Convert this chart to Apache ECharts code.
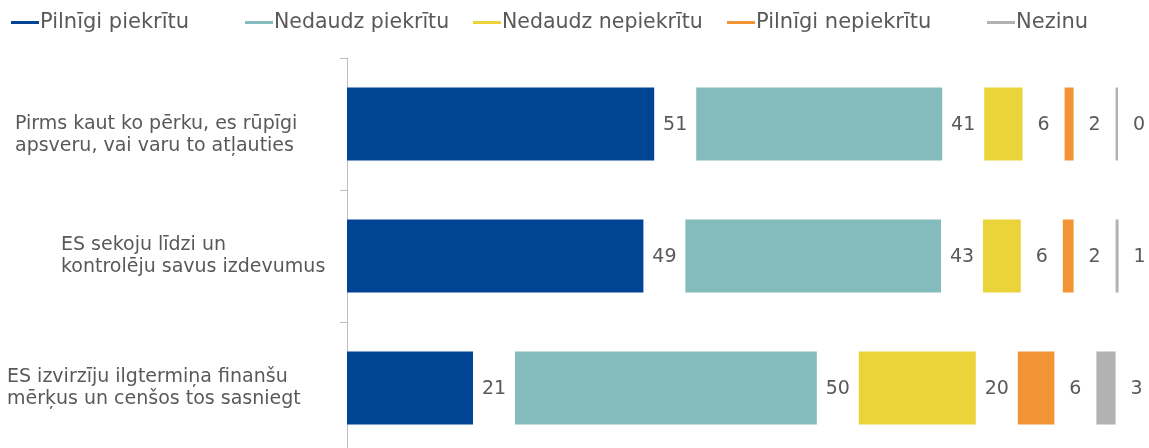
<!DOCTYPE html>
<html>
<head>
<meta charset="utf-8">
<script src="https://cdn.jsdelivr.net/npm/echarts@6/dist/echarts.min.js"></script>
<style>
  html, body { margin: 0; padding: 0; background: #fff; }
  #chart { width: 1149px; height: 448px; }
</style>
</head>
<body>
<div id="chart"></div>
<script>
const categories = [
  'Pirms kaut ko pērku, es rūpīgi\napsveru, vai varu to atļauties',
  'ES sekoju līdzi un\nkontrolēju savus izdevumus',
  'ES izvirzīju ilgtermiņa finanšu\nmērķus un cenšos tos sasniegt'
];
const seriesNames = ['Pilnīgi piekrītu', 'Nedaudz piekrītu', 'Nedaudz nepiekrītu', 'Pilnīgi nepiekrītu', 'Nezinu'];
const colors = ['#004494', '#84bbbc', '#ebd43a', '#f29436', '#b2b2b2'];

// percentage per answer, one array per answer, rows in category order
const fullyAgree = [51.2, 49.4, 21.0];
const somewhatAgree = [41.0, 42.6, 50.3];
const somewhatDisagree = [6.4, 6.3, 19.5];
const fullyDisagree = [1.5, 1.8, 6.1];
const dontKnow = [0.4, 0.5, 3.2];

const values = [fullyAgree, somewhatAgree, somewhatDisagree, fullyDisagree, dontKnow];
const GAP = 7; // empty room for the value label after every bar

const font = '"DejaVu Sans", Verdana, sans-serif';
const textColor = '#595959';

const series = [];
values.forEach((vals, i) => {
  series.push({
    name: seriesNames[i],
    type: 'bar',
    stack: 'all',
    barWidth: 73,
    itemStyle: { color: colors[i] },
    data: vals
  });
  series.push({
    name: 'gap' + i,
    type: 'bar',
    stack: 'all',
    itemStyle: { color: 'transparent' },
    label: {
      show: true,
      position: 'inside',
      offset: [0, 1],
      fontFamily: font,
      fontSize: 19,
      color: textColor,
      formatter: p => Math.round(vals[p.dataIndex])
    },
    silent: true,
    data: vals.map(() => GAP)
  });
});

// the legend entries sit in fixed slots in the original, so one legend each
const legendLefts = [11, 245, 473, 727, 987];
const legendSizes = [21, 20.5, 20.5, 21, 21];
const legends = seriesNames.map((name, i) => ({
  data: [name],
  left: legendLefts[i],
  top: 12,
  padding: 0,
  icon: 'rect',
  itemWidth: 28,
  itemHeight: 3,
  selectedMode: false,
  textStyle: { fontFamily: font, fontSize: legendSizes[i], color: textColor, padding: [0, 0, 0, -4] }
}));

const labelPads = [[0, 0, 0, 8], [0, 0, 0, 54], [0, 0, 0, 0]];

const chart = echarts.init(document.getElementById('chart'), null, { renderer: 'canvas' });
chart.setOption({
  animation: false,
  backgroundColor: '#fff',
  legend: legends,
  // 6 px per percent; the plot runs past the right edge so the last label fits
  grid: { left: 347, right: -14, top: 58, bottom: -6, outerBoundsMode: 'none', containLabel: false },
  xAxis: {
    type: 'value',
    min: 0,
    max: 136,
    show: false
  },
  yAxis: {
    type: 'category',
    inverse: true,
    data: categories.map((c, i) => ({
      value: c,
      textStyle: {
        align: 'left',
        padding: labelPads[i],
        fontFamily: font,
        fontSize: 19,
        lineHeight: 22,
        color: textColor
      }
    })),
    axisLine: { show: true, lineStyle: { color: '#bfbfbf', width: 1 } },
    axisTick: { show: true, length: 7, lineStyle: { color: '#bfbfbf', width: 1 } },
    axisLabel: {
      align: 'left',
      margin: 340,
      fontFamily: font,
      fontSize: 19,
      lineHeight: 22,
      color: textColor,
      // first label sits a little lower than its band centre in the original
      formatter: (v, i) => (i === 0 ? '\n' : '') + v
    }
  },
  series
});
</script>
</body>
</html>
